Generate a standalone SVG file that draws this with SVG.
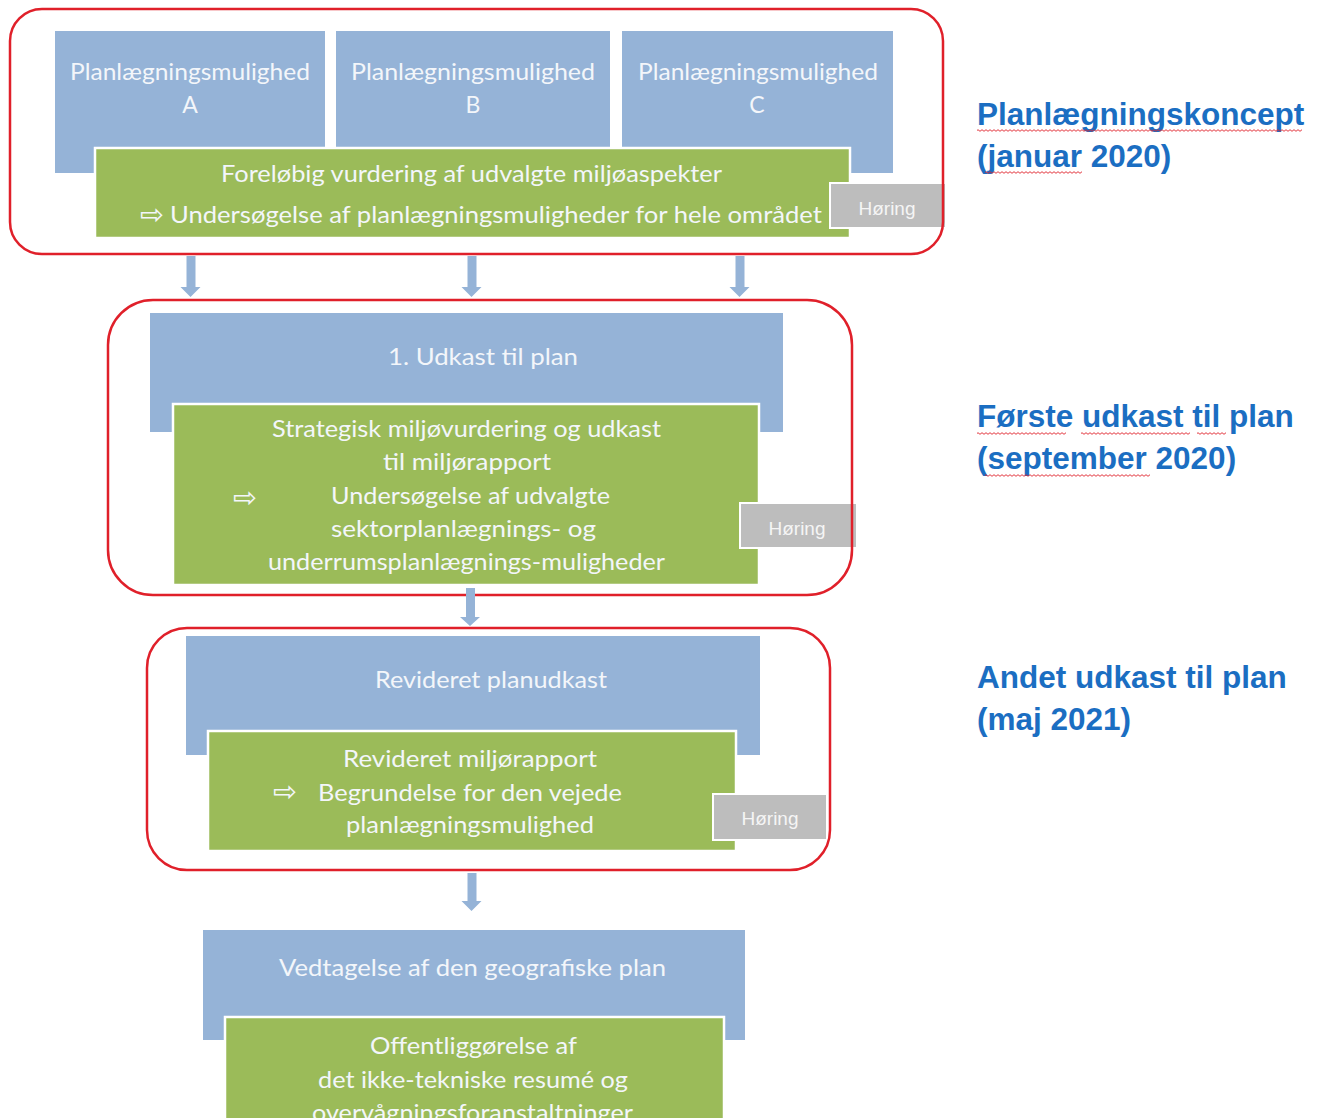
<svg xmlns="http://www.w3.org/2000/svg" width="1323" height="1118" viewBox="0 0 1323 1118">
<style>
.blue{fill:#95b3d7}
.green{fill:#9bbb59;stroke:#ffffff;stroke-width:2.5}
.hoer{fill:#bdbdbd;stroke:#ffffff;stroke-width:2}
.frame{fill:none;stroke:#e0202a;stroke-width:2.5}
.t{font-family:Lato,"Open Sans",sans-serif;font-size:23px;fill:#f3f6fa}
.ar{font-family:"DejaVu Sans",sans-serif;font-size:28px;fill:#f3f6fa}
.h{font-family:"Liberation Sans",Arial,sans-serif;font-size:19px;fill:#f5f5f5;text-anchor:middle}
.lbl{font-family:"Liberation Sans",Arial,sans-serif;font-size:31.5px;font-weight:bold;fill:#1b6ec2}
.conn{fill:#95b3d7}
</style>
<defs>
<pattern id="wave" x="0" y="0" width="4" height="3" patternUnits="userSpaceOnUse">
<path d="M0 2.3 L2 0.7 L4 2.3" fill="none" stroke="#e0202a" stroke-width="0.9"/>
</pattern>
</defs>
<rect width="1323" height="1118" fill="#ffffff"/>

<g id="stage1">
<g id="optA"><rect class="blue" x="55" y="31" width="270" height="142"/>
<text class="t" x="70" y="80" textLength="240" lengthAdjust="spacingAndGlyphs">Planlægningsmulighed</text>
<text class="t" x="190" y="113" text-anchor="middle">A</text></g>
<g id="optB"><rect class="blue" x="336" y="31" width="274" height="142"/>
<text class="t" x="351" y="80" textLength="244" lengthAdjust="spacingAndGlyphs">Planlægningsmulighed</text>
<text class="t" x="473" y="113" text-anchor="middle">B</text></g>
<g id="optC"><rect class="blue" x="622" y="31" width="271" height="142"/>
<text class="t" x="638" y="80" textLength="240" lengthAdjust="spacingAndGlyphs">Planlægningsmulighed</text>
<text class="t" x="757" y="113" text-anchor="middle">C</text></g>
<g id="eval1"><rect class="green" x="95" y="148" width="755" height="90"/>
<text class="t" x="221" y="182" textLength="501" lengthAdjust="spacingAndGlyphs">Foreløbig vurdering af udvalgte miljøaspekter</text>
<text class="ar" x="140" y="224" textLength="24" lengthAdjust="spacingAndGlyphs">⇨</text>
<text class="t" x="170" y="223" textLength="652" lengthAdjust="spacingAndGlyphs">Undersøgelse af planlægningsmuligheder for hele området</text></g>
<g id="hoering1"><rect class="hoer" x="830" y="183" width="116" height="45"/>
<text class="h" x="887" y="215">Høring</text></g>
<rect id="frame1" class="frame" x="10" y="9" width="933" height="245" rx="32"/>
</g>

<g id="stage2">
<g id="draft1"><rect class="blue" x="150" y="313" width="633" height="119"/>
<text class="t" x="388" y="365" textLength="190" lengthAdjust="spacingAndGlyphs">1.  Udkast til plan</text></g>
<g id="sea"><rect class="green" x="173" y="404" width="586" height="181"/>
<text class="t" x="272" y="437" textLength="389" lengthAdjust="spacingAndGlyphs">Strategisk miljøvurdering og udkast</text>
<text class="t" x="383" y="470" textLength="168" lengthAdjust="spacingAndGlyphs">til miljørapport</text>
<text class="ar" x="233" y="507" textLength="24" lengthAdjust="spacingAndGlyphs">⇨</text>
<text class="t" x="331" y="503.5" textLength="279" lengthAdjust="spacingAndGlyphs">Undersøgelse af udvalgte</text>
<text class="t" x="331" y="537" textLength="265" lengthAdjust="spacingAndGlyphs">sektorplanlægnings-  og</text>
<text class="t" x="268" y="570" textLength="397" lengthAdjust="spacingAndGlyphs">underrumsplanlægnings-muligheder</text></g>
<g id="hoering2"><rect class="hoer" x="740" y="503" width="117" height="45"/>
<text class="h" x="797" y="535">Høring</text></g>
<rect id="frame2" class="frame" x="108" y="300" width="744" height="295" rx="45"/>
</g>

<g id="stage3">
<g id="draft2"><rect class="blue" x="186" y="636" width="574" height="119"/>
<text class="t" x="375" y="688" textLength="232" lengthAdjust="spacingAndGlyphs">Revideret planudkast</text></g>
<g id="report2"><rect class="green" x="208" y="731" width="528" height="120"/>
<text class="t" x="343" y="767" textLength="254" lengthAdjust="spacingAndGlyphs">Revideret miljørapport</text>
<text class="ar" x="273" y="801" textLength="24" lengthAdjust="spacingAndGlyphs">⇨</text>
<text class="t" x="318" y="801" textLength="304" lengthAdjust="spacingAndGlyphs">Begrundelse for den vejede</text>
<text class="t" x="346" y="833" textLength="248" lengthAdjust="spacingAndGlyphs">planlægningsmulighed</text></g>
<g id="hoering3"><rect class="hoer" x="713" y="794" width="114" height="46"/>
<text class="h" x="770" y="825">Høring</text></g>
<rect id="frame3" class="frame" x="147" y="628" width="683" height="242" rx="40"/>
</g>

<g id="stage4">
<g id="adoption"><rect class="blue" x="203" y="930" width="542" height="110"/>
<text class="t" x="279" y="976" textLength="387" lengthAdjust="spacingAndGlyphs">Vedtagelse af den geografiske plan</text></g>
<g id="publication"><rect class="green" x="225" y="1017" width="499" height="120"/>
<text class="t" x="370" y="1054" textLength="207" lengthAdjust="spacingAndGlyphs">Offentliggørelse af</text>
<text class="t" x="318" y="1088" textLength="310" lengthAdjust="spacingAndGlyphs">det ikke-tekniske  resumé og</text>
<text class="t" x="312" y="1121" textLength="321" lengthAdjust="spacingAndGlyphs">overvågningsforanstaltninger</text></g>
</g>

<g id="connectors">
<path class="conn" d="M186.5 256 h9 v31 h5 l-10 10 l-10 -10 h6 z"/>
<path class="conn" d="M467.5 256 h9 v31 h5 l-10 10 l-10 -10 h6 z"/>
<path class="conn" d="M735.5 256 h9 v31 h5 l-10 10 l-10 -10 h6 z"/>
<path class="conn" d="M466 588 h9 v29 h5 l-10 9 l-10 -9 h6 z"/>
<path class="conn" d="M467.5 873 h9 v28 h5 l-10 10 l-10 -10 h6 z"/>
</g>

<g id="labels">
<text class="lbl" x="977" y="125">Planlægningskoncept</text>
<text class="lbl" x="977" y="167">(januar 2020)</text>
<rect x="977" y="129" width="325" height="3" fill="url(#wave)"/>
<rect x="985" y="171" width="97" height="3" fill="url(#wave)"/>
<text class="lbl" x="977" y="427">Første udkast til plan</text>
<text class="lbl" x="977" y="469">(september 2020)</text>
<rect x="977" y="432" width="89" height="3" fill="url(#wave)"/>
<rect x="1081" y="432" width="109" height="3" fill="url(#wave)"/>
<rect x="1197" y="432" width="29" height="3" fill="url(#wave)"/>
<rect x="985" y="474" width="165" height="3" fill="url(#wave)"/>
<text class="lbl" x="977" y="688">Andet udkast til plan</text>
<text class="lbl" x="977" y="730">(maj 2021)</text>
</g>
</svg>
